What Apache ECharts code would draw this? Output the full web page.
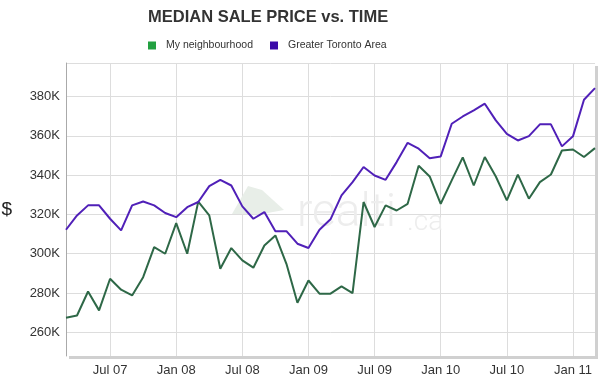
<!DOCTYPE html>
<html>
<head>
<meta charset="utf-8">
<script src="https://cdn.jsdelivr.net/npm/echarts@6/dist/echarts.min.js"></script>
<style>html,body{margin:0;padding:0;background:#fff;}#c{width:600px;height:382px;}</style>
</head>
<body>
<div id="c"></div>
<script>
var months = ['Mar 07','Apr 07','May 07','Jun 07','Jul 07','Aug 07','Sep 07','Oct 07','Nov 07','Dec 07',
  'Jan 08','Feb 08','Mar 08','Apr 08','May 08','Jun 08','Jul 08','Aug 08','Sep 08','Oct 08','Nov 08','Dec 08',
  'Jan 09','Feb 09','Mar 09','Apr 09','May 09','Jun 09','Jul 09','Aug 09','Sep 09','Oct 09','Nov 09','Dec 09',
  'Jan 10','Feb 10','Mar 10','Apr 10','May 10','Jun 10','Jul 10','Aug 10','Sep 10','Oct 10','Nov 10','Dec 10',
  'Jan 11','Feb 11','Mar 11'];
var neighbourhood = [267.5,268.6,280.8,271.2,287.3,281.7,278.8,288.1,303.4,300.0,
  315.6,300.0,326.5,319.5,292.4,302.9,296.6,292.9,304.2,309.3,294.9,275.1,
  286.4,279.7,279.7,283.4,280.0,326.3,313.6,324.6,322.0,325.4,344.7,339.3,
  325.4,337.3,349.0,334.7,349.2,339.3,327.1,340.2,328.0,336.4,340.3,352.5,
  353.0,349.2,353.7];
var gta = [312.2,319.5,324.6,324.6,317.8,311.9,324.6,326.6,324.6,320.7,
  318.6,323.7,326.3,334.4,337.6,334.7,324.1,317.8,321.2,311.5,311.5,305.1,
  302.9,312.2,317.5,329.7,336.4,344.1,339.8,337.6,346.6,356.4,353.4,348.6,
  349.5,366.1,369.8,372.9,376.3,367.8,361.0,357.6,359.8,365.8,365.8,354.6,
  359.7,378.3,384.2];
var yTicks = [260, 280, 300, 320, 340, 360, 380];
var yLines = [260, 280, 300, 320, 340, 360, 380, 397];
var seriesNames = ['My neighbourhood', 'Greater Toronto Area'];
var titleText = 'MEDIAN SALE PRICE vs. TIME';

var chart = echarts.init(document.getElementById('c'), null, {renderer: 'canvas'});
function isMark(v) { return v.indexOf('Jan') === 0 || v.indexOf('Jul') === 0; }
var font = '"Liberation Sans", Arial, sans-serif';
chart.setOption({
  animation: false,
  backgroundColor: '#fff',
  title: {
    text: titleText, left: 148, top: 9, padding: 0,
    textStyle: {fontFamily: font, fontSize: 16.5, fontWeight: 'bold', color: '#333'}
  },
  legend: {
    left: 148, top: 40, padding: 0, itemWidth: 8, itemHeight: 8, itemGap: 17, icon: 'rect',
    textStyle: {fontFamily: font, fontSize: 10.5, color: '#333', padding: [0, 0, 0, 5]},
    data: [
      {name: seriesNames[0], itemStyle: {color: '#22a040'}},
      {name: seriesNames[1], itemStyle: {color: '#3a0aa8'}}
    ]
  },
  grid: {
    left: 66, right: 5, top: 63, bottom: 26, show: true, outerBoundsMode: 'none', containLabel: false,
    backgroundColor: '#fff', borderWidth: 0, borderColor: 'transparent',
    shadowColor: '#d0d0d0', shadowBlur: 0, shadowOffsetX: 3, shadowOffsetY: 3
  },
  graphic: [
    {type: 'polygon', z: 1, silent: true,
      shape: {points: [[232, 214], [248, 186], [262, 190], [284, 210], [262, 214]]},
      style: {fill: '#e8eee8'}},
    {type: 'text', z: 1, silent: true, left: 297, top: 191,
      style: {text: 'realti', fontFamily: 'Roboto, sans-serif', fontWeight: 300, fontSize: 46, fill: '#ededed'}},
    {type: 'text', z: 1, silent: true, left: 407, top: 209,
      style: {text: '.ca', fontFamily: 'Roboto, sans-serif', fontWeight: 300, fontSize: 28, fill: '#ededed'}}
  ],
  xAxis: {
    type: 'category', data: months, boundaryGap: false,
    axisLine: {show: false}, axisTick: {show: false},
    axisLabel: {
      interval: function (i, v) { return isMark(v); },
      fontFamily: font, fontSize: 13, color: '#333', margin: 8
    },
    splitLine: {show: true, interval: function (i, v) { return isMark(v); }, lineStyle: {color: '#ddd', width: 1}}
  },
  yAxis: {
    type: 'value', min: 248, max: 397,
    name: '$', nameLocation: 'middle', nameGap: 54, nameRotate: 0,
    nameTextStyle: {fontFamily: font, fontSize: 19, color: '#222'},
    axisLine: {show: true, lineStyle: {color: '#aaa', width: 1}},
    axisTick: {show: false, customValues: yLines},
    axisLabel: {customValues: yTicks, fontFamily: font, fontSize: 13, color: '#333', margin: 6,
      formatter: function (v) { return v + 'K'; }},
    splitLine: {show: true, lineStyle: {color: '#ddd', width: 1}}
  },
  series: [
    {name: seriesNames[0], type: 'line', data: neighbourhood, showSymbol: false, symbol: 'none',
      itemStyle: {color: '#2e6847'}, lineStyle: {color: '#2e6847', width: 2}, z: 3},
    {name: seriesNames[1], type: 'line', data: gta, showSymbol: false, symbol: 'none',
      itemStyle: {color: '#5020b8'}, lineStyle: {color: '#5020b8', width: 2}, z: 3}
  ]
});
</script>
</body>
</html>
